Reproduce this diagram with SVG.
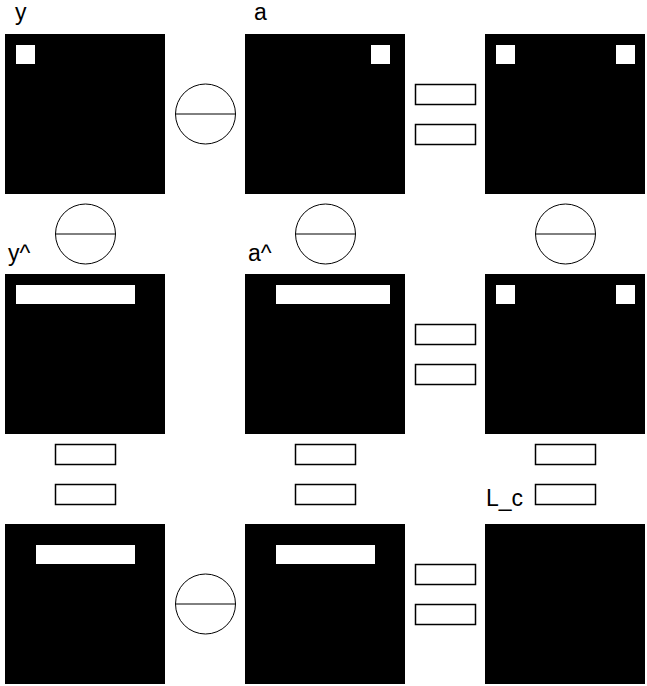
<svg xmlns="http://www.w3.org/2000/svg" width="647" height="686" viewBox="0 0 647 686">
<style>
.blk{fill:#000}
.wht{fill:#fff}
.op circle{fill:#fff;stroke:#000;stroke-width:1}
.op line{stroke:#000;stroke-width:1}
.box{fill:#fff;stroke:#000;stroke-width:1.5}
.lbl{font-family:"Liberation Sans",Arial,sans-serif;font-size:23px;fill:#000}
</style>
<rect width="647" height="686" fill="#fff"/>
<g id="node-y">
<rect class="blk" x="5" y="34" width="160" height="160"/>
<rect class="wht" x="16" y="45" width="19" height="19"/>
<text class="lbl" x="15" y="20">y</text>
</g>
<g id="node-a">
<rect class="blk" x="245" y="34" width="160" height="160"/>
<rect class="wht" x="371" y="45" width="19" height="19"/>
<text class="lbl" x="254" y="20">a</text>
</g>
<g id="node-r1c3">
<rect class="blk" x="485" y="34" width="160" height="160"/>
<rect class="wht" x="496" y="45" width="19" height="19"/>
<rect class="wht" x="616" y="45" width="19" height="19"/>
</g>
<g id="node-yhat">
<rect class="blk" x="5" y="274" width="160" height="160"/>
<rect class="wht" x="16" y="285" width="119" height="19"/>
<text class="lbl" x="8" y="261">y^</text>
</g>
<g id="node-ahat">
<rect class="blk" x="245" y="274" width="160" height="160"/>
<rect class="wht" x="276" y="285" width="114" height="19"/>
<text class="lbl" x="248" y="261">a^</text>
</g>
<g id="node-r2c3">
<rect class="blk" x="485" y="274" width="160" height="160"/>
<rect class="wht" x="496" y="285" width="19" height="19"/>
<rect class="wht" x="616" y="285" width="19" height="19"/>
</g>
<g id="node-r3c1">
<rect class="blk" x="5" y="524" width="160" height="160"/>
<rect class="wht" x="36" y="545" width="99" height="19"/>
</g>
<g id="node-r3c2">
<rect class="blk" x="245" y="524" width="160" height="160"/>
<rect class="wht" x="276" y="545" width="99" height="19"/>
</g>
<g id="node-Lc">
<rect class="blk" x="485" y="524" width="160" height="160"/>
<text class="lbl" x="486" y="506">L_c</text>
</g>
<g id="connectors">
<g class="op"><circle cx="205.5" cy="114" r="30"/><line x1="175.5" y1="114" x2="235.5" y2="114"/></g>
<g class="op"><circle cx="85.5" cy="234" r="30"/><line x1="55.5" y1="234" x2="115.5" y2="234"/></g>
<g class="op"><circle cx="325.5" cy="234" r="30"/><line x1="295.5" y1="234" x2="355.5" y2="234"/></g>
<g class="op"><circle cx="565.5" cy="234" r="30"/><line x1="535.5" y1="234" x2="595.5" y2="234"/></g>
<g class="op"><circle cx="205.5" cy="604" r="30"/><line x1="175.5" y1="604" x2="235.5" y2="604"/></g>
<rect class="box" x="415.5" y="84.5" width="60" height="20"/>
<rect class="box" x="415.5" y="124.5" width="60" height="20"/>
<rect class="box" x="415.5" y="324.5" width="60" height="20"/>
<rect class="box" x="415.5" y="364.5" width="60" height="20"/>
<rect class="box" x="415.5" y="564.5" width="60" height="20"/>
<rect class="box" x="415.5" y="604.5" width="60" height="20"/>
<rect class="box" x="55.5" y="444.5" width="60" height="20"/>
<rect class="box" x="55.5" y="484.5" width="60" height="20"/>
<rect class="box" x="295.5" y="444.5" width="60" height="20"/>
<rect class="box" x="295.5" y="484.5" width="60" height="20"/>
<rect class="box" x="535.5" y="444.5" width="60" height="20"/>
<rect class="box" x="535.5" y="484.5" width="60" height="20"/>
</g>
</svg>
